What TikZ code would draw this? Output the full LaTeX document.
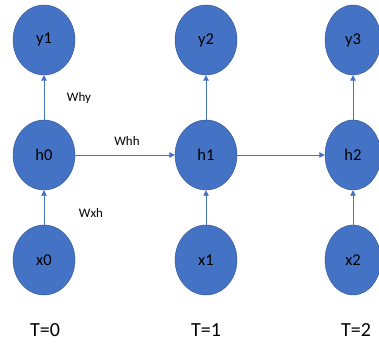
\documentclass[tikz,border=0pt]{standalone}
\usepackage{fontspec}
\setmainfont{Carlito}
\usetikzlibrary{shapes.geometric,arrows.meta}
\definecolor{nodeblue}{HTML}{4472C4}
\definecolor{nodeedge}{HTML}{2F528F}

\begin{document}
\begin{tikzpicture}[
x=1pt,y=-1pt,
rnode/.style={
    ellipse,
    fill=nodeblue,
    draw=nodeedge,
    inner sep=0pt,
    minimum width=62pt,
    minimum height=70pt,
    font=\fontsize{16.5}{18}\selectfont
    },
conn/.style={
    draw=nodeblue,
    line width=0.9pt,
    -{Triangle[width=5.5pt,length=5.5pt]}
    },
wlabel/.style={
    font=\fontsize{13}{15}\selectfont
    },
tlabel/.style={
    font=\fontsize{20}{22}\selectfont
    },
]
\useasboundingbox (0,0) rectangle (379,347);

\node[rnode] (y1) at (44,40) {y1};
\node[rnode] (h0) at (44,155) {h0};
\node[rnode] (x0) at (44,260) {x0};

\node[rnode] (y2) at (206,40) {y2};
\node[rnode] (h1) at (206,155) {h1};
\node[rnode] (x1) at (206,260) {x1};

\node[rnode,minimum width=56pt] (y3) at (353,40) {y3};
\node[rnode,minimum width=56pt] (h2) at (353,155) {h2};
\node[rnode,minimum width=56pt] (x2) at (353,260) {x2};

\draw[conn] (h0) -- (y1);
\draw[conn] (x0) -- (h0);
\draw[conn] (h0) -- (h1);
\draw[conn] (h1) -- (y2);
\draw[conn] (x1) -- (h1);
\draw[conn] (h1) -- (h2);
\draw[conn] (h2) -- (y3);
\draw[conn] (x2) -- (h2);

\node[wlabel] (why) at (79,98) {Why};
\node[wlabel] (whh) at (127,141) {Whh};
\node[wlabel] (wxh) at (91,213) {Wxh};

\node[tlabel] (t0) at (45,330) {T=0};
\node[tlabel] (t1) at (206,330) {T=1};
\node[tlabel] (t2) at (356,330) {T=2};
\end{tikzpicture}
\end{document}
